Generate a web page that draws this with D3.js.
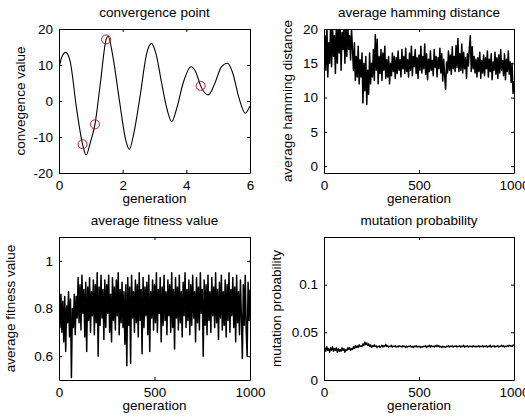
<!DOCTYPE html>
<html>
<head>
<meta charset="utf-8">
<script src="https://cdn.jsdelivr.net/npm/d3@7"></script>
<style>
  body { margin: 0; background: #fff; }
  text { font-family: "Liberation Sans", Arial, sans-serif; fill: #000; }
</style>
</head>
<body>
<script>
// convergence point
const convGen = [0, 0.1, 0.21, 0.35, 0.55, 0.74, 0.85, 1.0, 1.13, 1.3, 1.48, 1.54, 1.7, 1.9, 2.1, 2.21, 2.35, 2.55, 2.75, 2.91, 3.05, 3.22, 3.4, 3.54, 3.7, 3.9, 4.15, 4.3, 4.45, 4.69, 4.9, 5.1, 5.29, 5.45, 5.65, 5.85, 6.0]
const convVal = [9.2, 12.5, 13.5, 11, -2, -12, -15, -11, -6.5, 5, 17.1, 18, 12, 0, -11, -13.4, -9, 1.5, 13, 16, 13, 5.2, -2.5, -5.7, -2, 5, 9.5, 8, 4.2, 1.7, 5, 9.5, 10.5, 8, 1, -3.4, -1.4]
const markGen = [0.74, 1.13, 1.48, 4.45]
const markVal = [-12, -6.5, 17.1, 4.2]

// one value every 5 generations, 0..1000
const genStep = 5
const hammingVal = [
  16.5, 19, 14, 21, 13, 18, 15, 21, 14.5, 20.5, 16, 19, 13.5, 21, 15, 20, 16.5, 21, 14, 19.5,
  17, 21, 15, 20, 16, 21, 17, 19, 15.5, 20, 17,
  14, 18, 12.5, 16, 13, 17.5, 12, 15.5, 13, 16.5,
  9.2, 15, 11, 16, 9, 14, 10.5, 16.5, 12, 15,
  13, 17, 12.5, 19.2, 14, 18.5, 12, 16, 13.5, 17,
  12.5, 16.5, 14, 17.5, 12.8, 15.5, 13, 16, 12, 15,
  13.2, 16.5, 13.8, 16, 12.8, 15.8, 13.5, 16.8, 14, 15.5,
  13, 17, 14.2, 16, 13.5, 17.2, 13.8, 15.5, 13, 16.5,
  14, 17.5, 13.2, 16, 14.5, 17, 13.5, 15.8, 12.8, 16.2,
  14, 17.5, 13.6, 16, 14.2, 17.8, 13.4, 16.4, 12.6, 15.6,
  13.8, 16.8, 14, 15.4, 13.2, 17, 14.4, 16, 13, 15.8,
  14.2, 17.2, 13.6, 16.4, 12.4, 15.6, 13.2, 11.2, 15.2, 13.6,
  16.8, 14, 16.2, 13.4, 17.4, 14.2, 16, 13.8, 17.6, 14.4,
  18.6, 13.8, 16.4, 14, 17.8, 13.6, 16.6, 14.2, 15.8, 12.8,
  16.4, 14.6, 17.2, 19, 13.8, 17.4, 14.2, 16, 13.6, 15.6,
  13, 15.8, 13.8, 16.6, 12.8, 15.4, 13.6, 16.2, 13.2, 15.8,
  14.2, 16.8, 13, 15.6, 13.8, 16.4, 12.6, 15.2, 14, 16.6,
  13.4, 15.8, 12.8, 16.2, 13.6, 17, 14, 15.4, 13.2, 16.4,
  12.6, 15.6, 13.8, 16.8, 13.4, 15.2, 12.2, 15, 10.6, 12.4
]
const fitnessVal = [
  0.84, 0.72, 0.86, 0.7, 0.83, 0.66, 0.85, 0.62, 0.81, 0.74, 0.87, 0.68, 0.84, 0.51, 0.8, 0.72, 0.86, 0.69, 0.85, 0.76,
  0.93, 0.74, 0.9, 0.71, 0.94, 0.78, 0.88, 0.68, 0.91, 0.62,
  0.89, 0.75, 0.93, 0.7, 0.87, 0.77, 0.92, 0.69, 0.9, 0.74,
  0.95, 0.6, 0.89, 0.73, 0.94, 0.76, 0.88, 0.67, 0.92, 0.72,
  0.9, 0.78, 0.94, 0.7, 0.86, 0.66, 0.93, 0.75, 0.89, 0.71,
  0.92, 0.77, 0.95, 0.69, 0.88, 0.74, 0.91, 0.72, 0.87, 0.65,
  0.9, 0.56, 0.93, 0.73, 0.89, 0.57, 0.94, 0.76, 0.87, 0.7,
  0.92, 0.74, 0.9, 0.68, 0.95, 0.75, 0.88, 0.61, 0.93, 0.72,
  0.89, 0.77, 0.91, 0.69, 0.94, 0.62, 0.87, 0.76, 0.92, 0.71,
  0.9, 0.74, 0.95, 0.7, 0.88, 0.78, 0.93, 0.66, 0.89, 0.73,
  0.94, 0.75, 0.87, 0.69, 0.92, 0.77, 0.9, 0.7, 0.95, 0.72,
  0.88, 0.63, 0.93, 0.76, 0.89, 0.71, 0.94, 0.74, 0.87, 0.68,
  0.91, 0.77, 0.95, 0.72, 0.88, 0.75, 0.92, 0.69, 0.9, 0.73,
  0.94, 0.76, 0.87, 0.66, 0.93, 0.74, 0.89, 0.71, 0.95, 0.78,
  0.88, 0.6, 0.92, 0.73, 0.9, 0.69, 0.94, 0.75, 0.87, 0.7,
  0.93, 0.77, 0.89, 0.72, 0.95, 0.74, 0.88, 0.67, 0.91, 0.76,
  0.94, 0.71, 0.87, 0.73, 0.92, 0.68, 0.9, 0.75, 0.95, 0.7,
  0.88, 0.77, 0.93, 0.72, 0.89, 0.66, 0.94, 0.74, 0.87, 0.69,
  0.92, 0.76, 0.59, 0.9, 0.73, 0.94, 0.71, 0.6, 0.91, 0.75, 0.88
]
const mutationVal = [
  0.027, 0.034, 0.03, 0.035, 0.031, 0.033, 0.029, 0.034, 0.031, 0.035,
  0.03, 0.033, 0.031, 0.034, 0.029, 0.033, 0.03, 0.032, 0.03, 0.034,
  0.031, 0.033, 0.029, 0.032, 0.031, 0.034, 0.032, 0.034, 0.031, 0.033,
  0.032, 0.035, 0.033, 0.036, 0.034, 0.036, 0.034, 0.037, 0.035, 0.036,
  0.035, 0.038, 0.036, 0.04, 0.037, 0.039, 0.036, 0.038, 0.035, 0.037,
  0.034, 0.036, 0.035, 0.037, 0.035, 0.036, 0.034, 0.035, 0.036, 0.034,
  0.035, 0.0365, 0.0345, 0.036, 0.035, 0.0375, 0.035, 0.036, 0.0345, 0.0355,
  0.035, 0.0365, 0.0345, 0.0355, 0.035, 0.036, 0.0345, 0.0355, 0.0345, 0.036,
  0.035, 0.0355, 0.0345, 0.036, 0.035, 0.0355, 0.034, 0.0355, 0.0345, 0.0355,
  0.035, 0.036, 0.0345, 0.0355, 0.034, 0.0355, 0.035, 0.036, 0.0345, 0.0355,
  0.0345, 0.0355, 0.034, 0.035, 0.0345, 0.0355, 0.035, 0.036, 0.034, 0.0355,
  0.035, 0.0365, 0.0345, 0.036, 0.035, 0.0355, 0.0345, 0.036, 0.035, 0.0365,
  0.035, 0.036, 0.0345, 0.0355, 0.034, 0.0355, 0.0345, 0.035, 0.034, 0.0355,
  0.035, 0.036, 0.0345, 0.0355, 0.035, 0.036, 0.0345, 0.0355, 0.035, 0.036,
  0.0345, 0.0355, 0.035, 0.036, 0.0345, 0.0355, 0.035, 0.0365, 0.0345, 0.0355,
  0.035, 0.036, 0.0345, 0.0355, 0.035, 0.0355, 0.0345, 0.036, 0.035, 0.0355,
  0.0345, 0.0355, 0.035, 0.036, 0.0345, 0.0355, 0.035, 0.036, 0.0345, 0.0355,
  0.035, 0.036, 0.0345, 0.0355, 0.035, 0.0365, 0.0345, 0.0355, 0.035, 0.036,
  0.0345, 0.0355, 0.035, 0.036, 0.0345, 0.0355, 0.035, 0.0365, 0.035, 0.036,
  0.0345, 0.0355, 0.035, 0.036, 0.035, 0.0365, 0.0355, 0.036, 0.035, 0.0365, 0.037
]

// ticks
const convXTicks = [0, 2, 4, 6]
const convYTicks = [-20, -10, 0, 10, 20]
const genTicks = [0, 500, 1000]
const hamYTicks = [0, 5, 10, 15, 20]
const fitYTicks = [0.6, 0.8, 1]
const mutYTicks = [0, 0.05, 0.1]

const W = 525, H = 418
const fs = 13.5

const svg = d3.select("body").append("svg")
  .attr("width", W).attr("height", H)
  .style("display", "block")

svg.append("rect").attr("width", W).attr("height", H).attr("fill", "#fff")

function panel(o) {
  const x = d3.scaleLinear().domain(o.xDomain).range([o.left, o.right])
  const y = d3.scaleLinear().domain(o.yDomain).range([o.bottom, o.top])
  const g = svg.append("g")
  const fmt = d => String(d)

  const clipId = "clip" + o.id
  svg.append("clipPath").attr("id", clipId)
    .append("rect")
    .attr("x", o.left).attr("y", o.top)
    .attr("width", o.right - o.left).attr("height", o.bottom - o.top)

  // data line
  const line = d3.line()
    .x(d => x(d[0]))
    .y(d => y(d[1]))
  if (o.curve) line.curve(o.curve)
  g.append("path")
    .datum(o.points)
    .attr("clip-path", "url(#" + clipId + ")")
    .attr("fill", "none")
    .attr("stroke", "#000")
    .attr("stroke-width", o.lw || 1)
    .attr("stroke-linejoin", "round")
    .attr("d", line)

  // axes (MATLAB style: inward ticks on all four sides, box on)
  const bottomAx = g.append("g").attr("transform", "translate(0," + o.bottom + ")")
    .call(d3.axisBottom(x).tickValues(o.xTicks).tickFormat(fmt).tickSizeInner(-3).tickSizeOuter(0).tickPadding(7))
  const topAx = g.append("g").attr("transform", "translate(0," + o.top + ")")
    .call(d3.axisTop(x).tickValues(o.xTicks).tickFormat("").tickSizeInner(-3).tickSizeOuter(0))
  const leftAx = g.append("g").attr("transform", "translate(" + o.left + ",0)")
    .call(d3.axisLeft(y).tickValues(o.yTicks).tickFormat(fmt).tickSizeInner(-3).tickSizeOuter(0).tickPadding(6))
  const rightAx = g.append("g").attr("transform", "translate(" + o.right + ",0)")
    .call(d3.axisRight(y).tickValues(o.yTicks).tickFormat("").tickSizeInner(-3).tickSizeOuter(0))

  for (const a of [bottomAx, topAx, leftAx, rightAx]) {
    a.select(".domain").attr("stroke", "#000")
    a.selectAll(".tick line").attr("stroke", "#000")
    a.selectAll("text").style("font-size", fs + "px").attr("fill", "#000")
      .style("font-family", "'Liberation Sans', Arial, sans-serif")
  }

  // markers
  if (o.marks) {
    g.selectAll("circle.mark").data(o.marks).enter().append("circle")
      .attr("class", "mark")
      .attr("cx", d => x(d[0]))
      .attr("cy", d => y(d[1]))
      .attr("r", 4.5)
      .attr("fill", "none")
      .attr("stroke", "#b01830")
      .attr("stroke-width", 1)
  }

  // title
  g.append("text")
    .attr("x", (o.left + o.right) / 2).attr("y", o.top - 12)
    .attr("text-anchor", "middle").style("font-size", fs + "px")
    .text(o.title)
  // x label
  g.append("text")
    .attr("x", (o.left + o.right) / 2).attr("y", o.bottom + 30)
    .attr("text-anchor", "middle").style("font-size", fs + "px")
    .text(o.xLabel)
  // y label
  const cy = (o.top + o.bottom) / 2
  g.append("text")
    .attr("transform", "translate(" + (o.left - o.yLabelOff) + "," + cy + ") rotate(-90)")
    .attr("text-anchor", "middle").style("font-size", fs + "px")
    .text(o.yLabel)
}

const genPoints = vals => vals.map((v, i) => [i * genStep, v])

panel({
  id: 1, left: 59, right: 250, top: 29, bottom: 173,
  xDomain: [0, 6], yDomain: [-20, 20], xTicks: convXTicks, yTicks: convYTicks,
  points: convGen.map((gv, i) => [gv, convVal[i]]),
  curve: d3.curveMonotoneX, lw: 1.1,
  marks: markGen.map((gv, i) => [gv, markVal[i]]),
  title: "convergence point", xLabel: "generation", yLabel: "convegence value", yLabelOff: 34
})

panel({
  id: 2, left: 324, right: 514, top: 29, bottom: 173,
  xDomain: [0, 1000], yDomain: [-1, 20], xTicks: genTicks, yTicks: hamYTicks,
  points: genPoints(hammingVal), lw: 1.5,
  title: "average hamming distance", xLabel: "generation", yLabel: "average hamming distance", yLabelOff: 32
})

panel({
  id: 3, left: 59, right: 250, top: 237, bottom: 380,
  xDomain: [0, 1000], yDomain: [0.5, 1.1], xTicks: genTicks, yTicks: fitYTicks,
  points: genPoints(fitnessVal), lw: 1.5,
  title: "average fitness value", xLabel: "generation", yLabel: "average fitness value", yLabelOff: 44
})

panel({
  id: 4, left: 324, right: 514, top: 237, bottom: 380,
  xDomain: [0, 1000], yDomain: [0, 0.15], xTicks: genTicks, yTicks: mutYTicks,
  points: genPoints(mutationVal), lw: 1.3,
  title: "mutation probability", xLabel: "generation", yLabel: "mutation probability", yLabelOff: 43
})
</script>
</body>
</html>
